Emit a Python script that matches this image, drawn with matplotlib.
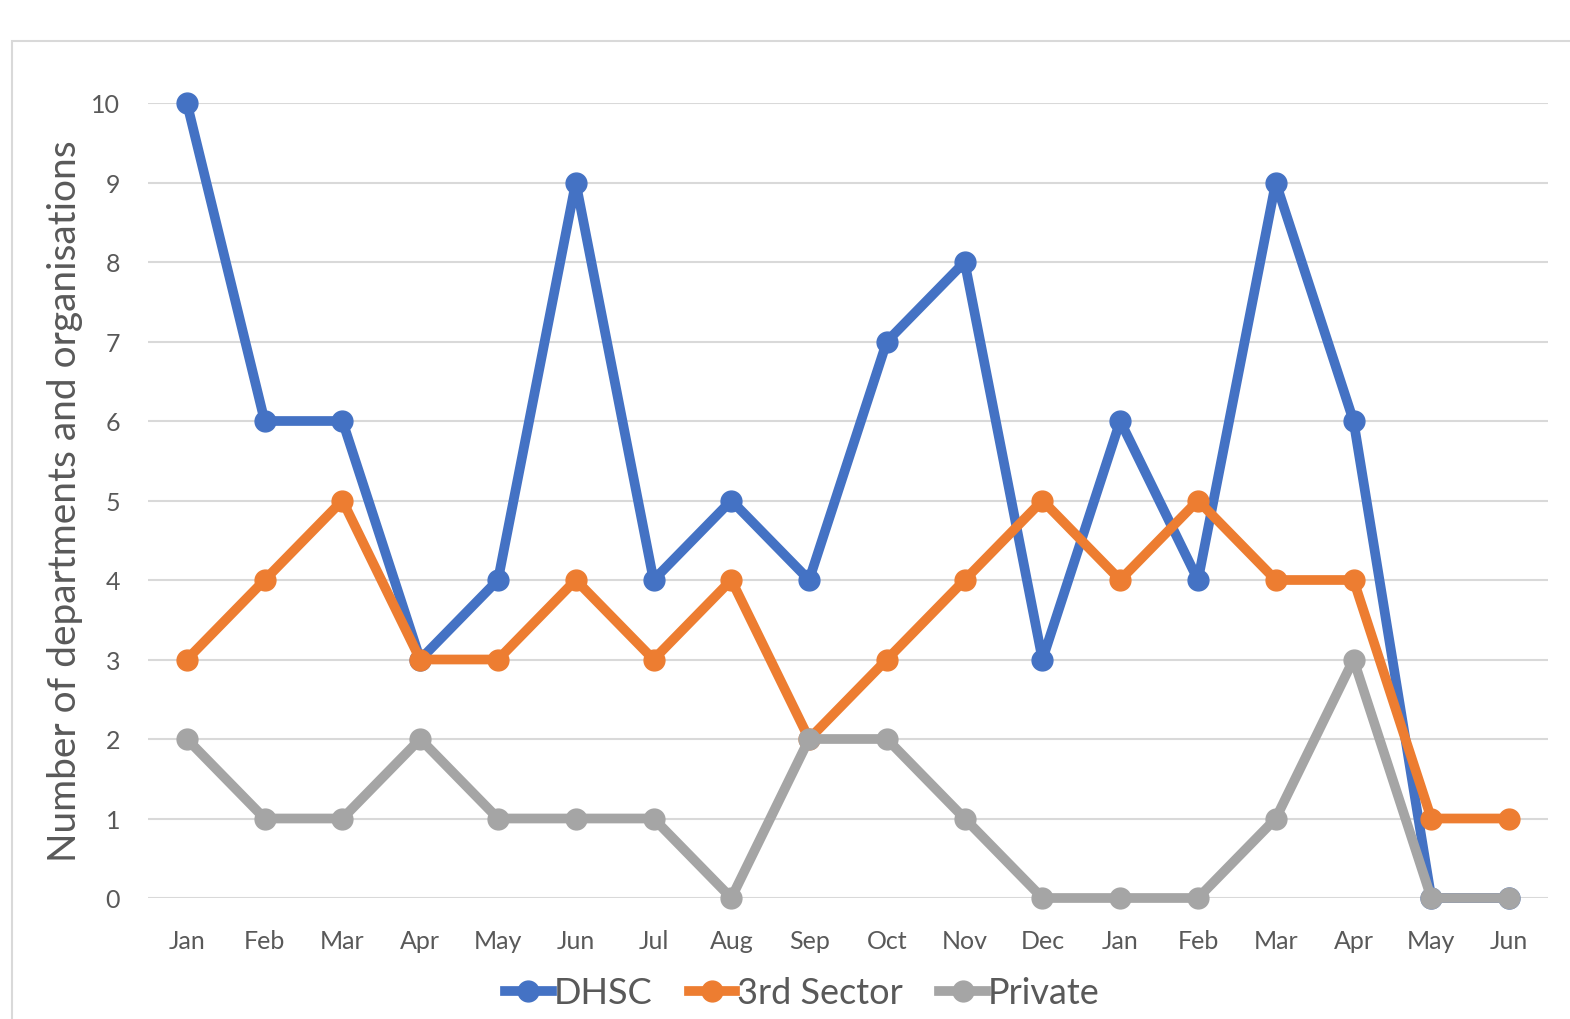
import matplotlib.pyplot as plt
from matplotlib.lines import Line2D
from matplotlib.patches import Rectangle

plt.rcParams["font.family"] = ["Lato", "DejaVu Sans"]

months = ["Jan", "Feb", "Mar", "Apr", "May", "Jun", "Jul", "Aug", "Sep",
          "Oct", "Nov", "Dec", "Jan", "Feb", "Mar", "Apr", "May", "Jun"]
dhsc = [10, 6, 6, 3, 4, 9, 4, 5, 4, 7, 8, 3, 6, 4, 9, 6, 0, 0]
third_sector = [3, 4, 5, 3, 3, 4, 3, 4, 2, 3, 4, 5, 4, 5, 4, 4, 1, 1]
private = [2, 1, 1, 2, 1, 1, 1, 0, 2, 2, 1, 0, 0, 0, 1, 3, 0, 0]

series = [("DHSC", dhsc, "#4472C4"),
          ("3rd Sector", third_sector, "#ED7D31"),
          ("Private", private, "#A5A5A5")]

fig = plt.figure(figsize=(15.7, 10.2), dpi=100)
ax = fig.add_axes([148 / 1570, 1 - 899 / 1020, 1400 / 1570, 795 / 1020])

# chart frame (cropped on right and bottom)
fig.add_artist(Rectangle((12 / 1570, -0.1), 1.2, 1 - 42 / 1020 + 0.1,
                         transform=fig.transFigure, fill=False,
                         edgecolor="#D9D9D9", linewidth=1.5))

x = list(range(len(months)))
for name, vals, color in series:
    ax.plot(x, vals, color=color, linewidth=7, marker="o", markersize=15,
            label=name, solid_joinstyle="round", zorder=3, clip_on=False)

ax.set_xlim(-0.5, len(months) - 0.5)
ax.set_ylim(0, 10)
ax.set_yticks(range(0, 11))
ax.set_xticks(x)
ax.set_xticklabels(months)
ax.grid(axis="y", color="#D9D9D9", linewidth=1.5)
ax.set_axisbelow(True)
for s in ax.spines.values():
    s.set_visible(False)
ax.tick_params(length=0, labelsize=18, labelcolor="#595959")
ax.tick_params(axis="y", pad=20)
ax.tick_params(axis="x", pad=22)
ax.set_ylabel("Number of departments and organisations", fontsize=28,
              color="#595959", labelpad=6)

handles = [Line2D([], [], color=c, linewidth=7, marker="o", markersize=15)
           for _, _, c in series]
fig.legend(handles, [n for n, _, _ in series], loc="center",
           bbox_to_anchor=(0.511, 1 - 994 / 1020), ncol=3, frameon=False,
           fontsize=26, handlelength=1.3, handletextpad=0.05,
           columnspacing=1.0, labelcolor="#595959")

fig.savefig("out.png", dpi=100, facecolor="white")
